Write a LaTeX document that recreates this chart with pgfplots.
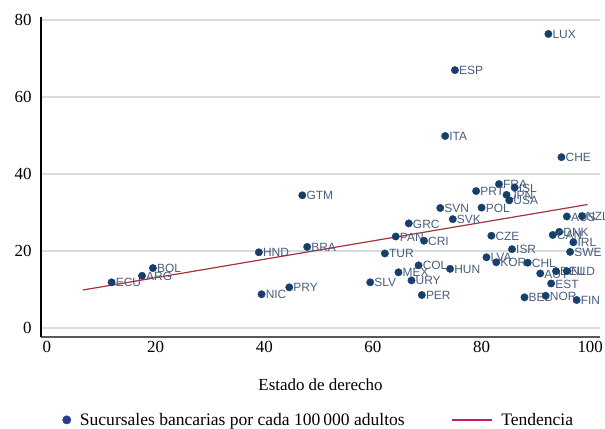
\documentclass[border=0pt]{standalone}
\usepackage{fontspec}
\setmainfont{Liberation Serif}
\newfontfamily\lblfont{Liberation Sans}
\usepackage{pgfplots}
\usepackage{pgfplotstable}
\pgfplotsset{compat=1.18}
\definecolor{dot}{HTML}{173F6B}
\definecolor{lbl}{HTML}{4A5C7C}
\definecolor{trend}{HTML}{A3343E}
\definecolor{gridc}{HTML}{D9DCDF}
\definecolor{legdot}{HTML}{2B3B8F}
\definecolor{legline}{HTML}{C8196A}
\pgfplotstableread{
name x y
LUX 92.3 76.4
ESP 75.1 67.0
ITA 73.3 49.9
CHE 94.7 44.4
GTM 47.0 34.5
FRA 83.2 37.4
ISL 86.1 36.5
JPN 84.6 34.6
USA 85.1 33.2
PRT 79.0 35.6
SVN 72.4 31.2
POL 80.0 31.3
SVK 74.7 28.3
GRC 66.6 27.2
PAN 64.2 23.8
CRI 69.4 22.7
CZE 81.8 24.0
AUS 95.7 29.0
NZL 98.5 29.1
DNK 94.3 25.0
CAN 93.1 24.2
IRL 96.9 22.3
SWE 96.3 19.8
ISR 85.6 20.5
TUR 62.2 19.4
LVA 80.9 18.4
KOR 82.7 17.1
CHL 88.5 17.0
COL 68.4 16.3
HUN 74.2 15.4
MEX 64.7 14.5
URY 67.1 12.4
SLV 59.5 11.9
AUT 90.8 14.2
DEU 93.7 14.8
NLD 95.7 14.8
EST 92.8 11.6
PER 69.0 8.6
BEL 87.9 8.0
NOR 91.8 8.4
FIN 97.5 7.3
ECU 11.9 11.9
ARG 17.5 13.6
BOL 19.5 15.6
HND 39.0 19.7
BRA 47.9 21.1
NIC 39.5 8.8
PRY 44.6 10.6
}\datatable
\begin{document}
\begin{tikzpicture}
\useasboundingbox (-41bp,-92bp) rectangle (564bp,337bp);
\begin{axis}[
  at={(0,0)}, anchor=south west,
  scale only axis,
  width=559bp, height=320bp,
  xmin=-1.1, xmax=101.8, ymin=-2.3, ymax=80.8,
  axis x line*=bottom, axis y line*=left,
  x axis line style={draw=black!65, line width=1.8bp},
  y axis line style={draw=black, line width=1.3bp},
  xtick={0,20,...,100}, ytick={0,20,...,80},
  major tick length=0pt,
  ymajorgrids, grid style={draw=gridc, line width=1.4bp},
  /pgf/number format/assume math mode=true,
  tick label style={font=\fontsize{17}{19}\selectfont},
  xticklabel style={yshift=-1bp},
  yticklabel style={xshift=-6bp},
  xlabel={Estado de derecho},
  xlabel style={font=\fontsize{17}{19}\selectfont, yshift=-19bp},
  clip=false,
  legend style={at={(0.497,-0.259)}, anchor=center, draw=none, fill=none,
    legend columns=2, font=\fontsize{17.6}{20}\selectfont,
    /tikz/every odd column/.append style={column sep=7bp},
    /tikz/every even column/.append style={column sep=44bp}},
  legend cell align=left,
]
\addplot[trend, line width=1.2bp, forget plot] coordinates {(6.6,9.9) (99.5,32.1)};
\addplot[only marks, mark=*, mark size=3.7bp, mark options={draw=dot, fill=dot},
  nodes near coords, point meta=explicit symbolic, forget plot,
  every node near coord/.style={anchor=west, xshift=3bp, yshift=-0.5bp,
    font=\lblfont\fontsize{12}{13}\selectfont, text=lbl, inner sep=1bp}]
  table[x=x, y=y, meta=name] {\datatable};
\addlegendimage{only marks, mark=*, mark size=4.2bp, mark options={draw=legdot, fill=legdot}}
\addlegendentry{Sucursales bancarias por cada 100\,000 adultos}
\addlegendimage{draw=legline, line width=1.6bp, legend image code/.code={\draw[draw=legline, line width=1.6bp] (0bp,0bp) -- (40bp,0bp);}}
\addlegendentry{Tendencia}
\end{axis}
\end{tikzpicture}
\end{document}
